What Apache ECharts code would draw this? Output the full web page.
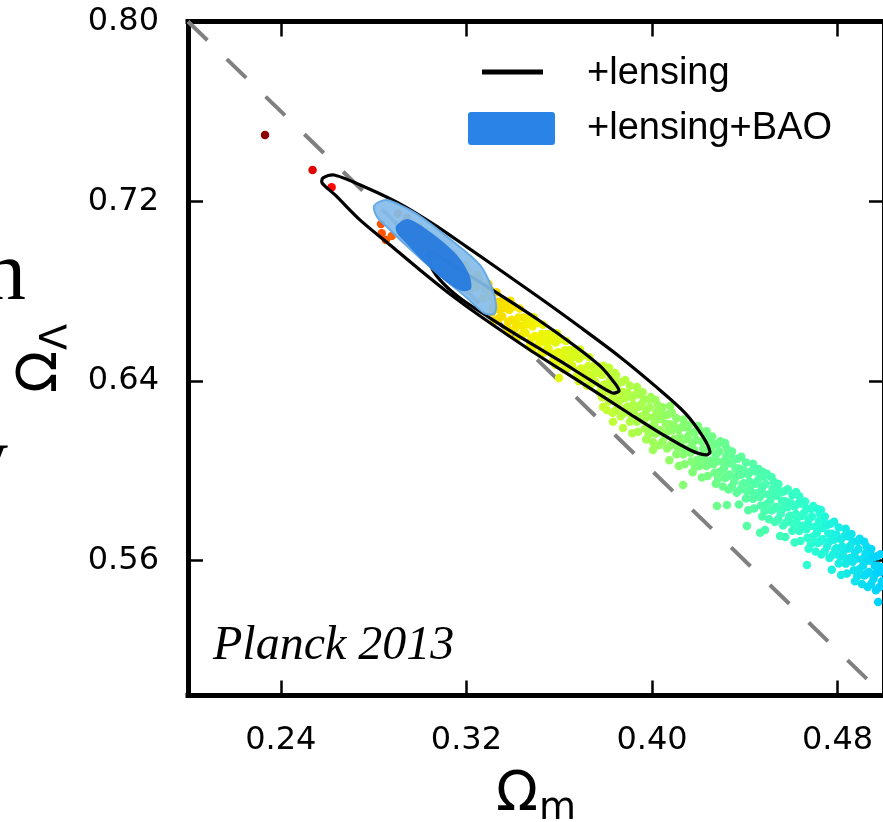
<!DOCTYPE html>
<html>
<head>
<meta charset="utf-8">
<script src="https://cdn.jsdelivr.net/npm/echarts@6.0.0/dist/echarts.min.js"></script>
<style>
html,body{margin:0;padding:0;background:#fff;}
#chart{width:883px;height:822px;}
</style>
</head>
<body>
<div id="chart"></div>
<script>
// ---------------- data ----------------
const xTicks = [0.24, 0.32, 0.40, 0.48];
const yTicks = [0.56, 0.64, 0.72, 0.80];
const legendLabels = ['+lensing', '+lensing+BAO'];
const annotation = 'Planck 2013';

// flat-universe line  Omega_Lambda = 1 - Omega_m
const flatLine = [[0.20, 0.80], [0.50, 0.50]];

// MCMC samples [Omega_m, Omega_Lambda]
const tailSamples = [[0.2332,0.7495],[0.2537,0.7339],[0.2619,0.7262],[0.2832,0.7099],[0.2835,0.7057],[0.2853,0.7027],[0.2878,0.7045]];
const baoSamples = [
[0.2905,0.7145],[0.2920,0.7062],[0.2930,0.7104],[0.2940,0.7070],[0.2945,0.7126],
[0.2955,0.7103],[0.2970,0.7020],[0.2980,0.7062],[0.2990,0.7028],[0.2995,0.7084],
[0.3005,0.7061],[0.3020,0.6978],[0.3030,0.7020],[0.3040,0.6986],[0.3045,0.7042],
[0.3055,0.7019],[0.3070,0.6936],[0.3080,0.6978],[0.3090,0.6944],[0.3095,0.7000],
[0.3105,0.6977],[0.3120,0.6894],[0.3130,0.6936],[0.3140,0.6902],[0.3145,0.6958],
[0.3155,0.6935],[0.3170,0.6852],[0.3180,0.6894],[0.3190,0.6860],[0.3195,0.6916],
[0.3205,0.6893],[0.3220,0.6810],[0.3230,0.6852],[0.3240,0.6818],[0.3245,0.6874],
[0.3255,0.6851],[0.3270,0.6768],[0.3280,0.6810],[0.3290,0.6776],[0.3295,0.6832]];
const yellowSamples = [
[0.3305,0.6803],[0.3315,0.6726],[0.3325,0.6754],[0.3335,0.6672],[0.3345,0.6754],[0.3310,0.6705],[0.3330,0.6795],[0.3340,0.6718],[0.3320,0.6668],[0.3345,0.6684],
[0.3355,0.6687],[0.3365,0.6755],[0.3375,0.6638],[0.3385,0.6716],[0.3395,0.6673],[0.3360,0.6724],[0.3380,0.6664],[0.3390,0.6757],[0.3370,0.6732],[0.3385,0.6616],
[0.3405,0.6731],[0.3415,0.6654],[0.3425,0.6682],[0.3435,0.6600],[0.3445,0.6682],[0.3410,0.6633],[0.3430,0.6723],[0.3440,0.6646],[0.3420,0.6596],[0.3445,0.6612],
[0.3455,0.6614],[0.3465,0.6682],[0.3475,0.6565],[0.3485,0.6643],[0.3495,0.6600],[0.3460,0.6651],[0.3480,0.6591],[0.3490,0.6684],[0.3470,0.6659],[0.3485,0.6543],
[0.3505,0.6658],[0.3515,0.6581],[0.3525,0.6609],[0.3535,0.6527],[0.3545,0.6609],[0.3510,0.6560],[0.3530,0.6650],[0.3540,0.6573],[0.3520,0.6523],[0.3545,0.6539],
[0.3555,0.6542],[0.3565,0.6610],[0.3575,0.6493],[0.3585,0.6571],[0.3595,0.6528],[0.3560,0.6579],[0.3580,0.6519],[0.3590,0.6612],[0.3570,0.6587],[0.3585,0.6471],
[0.3605,0.6586],[0.3615,0.6509],[0.3625,0.6537],[0.3635,0.6455],[0.3645,0.6537],[0.3610,0.6488],[0.3630,0.6578],[0.3640,0.6501],[0.3620,0.6451],[0.3645,0.6467],
[0.3655,0.6470],[0.3665,0.6538],[0.3675,0.6421],[0.3685,0.6499],[0.3695,0.6456],[0.3660,0.6507],[0.3680,0.6447],[0.3690,0.6540],[0.3670,0.6515],[0.3685,0.6399],
[0.3705,0.6514],[0.3715,0.6437],[0.3725,0.6465],[0.3735,0.6383],[0.3745,0.6465],[0.3710,0.6416],[0.3730,0.6506],[0.3740,0.6429],[0.3720,0.6379],[0.3745,0.6395],
[0.3755,0.6398],[0.3765,0.6466],[0.3775,0.6349],[0.3785,0.6427],[0.3795,0.6384],[0.3760,0.6435],[0.3780,0.6375],[0.3790,0.6468],[0.3770,0.6443],[0.3785,0.6327]];
const greenSamples = [
[0.3805,0.6381],[0.3815,0.6309],[0.3825,0.6437],[0.3835,0.6375],[0.3845,0.6272],[0.3810,0.6353],[0.3830,0.6258],[0.3840,0.6406],[0.3820,0.6406],[0.3805,0.6271],[0.3845,0.6427],[0.3825,0.6317],[0.3815,0.6459],[0.3835,0.6325],
[0.3855,0.6390],[0.3865,0.6243],[0.3875,0.6351],[0.3885,0.6404],[0.3895,0.6286],[0.3860,0.6352],[0.3880,0.6257],[0.3890,0.6280],[0.3870,0.6395],[0.3855,0.6295],[0.3895,0.6346],[0.3875,0.6191],[0.3865,0.6318],[0.3885,0.6324],
[0.3905,0.6379],[0.3915,0.6327],[0.3925,0.6275],[0.3935,0.6218],[0.3945,0.6285],[0.3910,0.6251],[0.3930,0.6341],[0.3940,0.6174],[0.3920,0.6294],[0.3905,0.6219],[0.3945,0.6340],[0.3925,0.6250],[0.3915,0.6167],[0.3935,0.6373],
[0.3955,0.6243],[0.3965,0.6316],[0.3975,0.6269],[0.3985,0.6162],[0.3995,0.6194],[0.3960,0.6350],[0.3980,0.6240],[0.3990,0.6283],[0.3970,0.6188],[0.3955,0.6298],[0.3995,0.6329],[0.3975,0.6139],[0.3965,0.6226],[0.3985,0.6317],
[0.4005,0.6237],[0.4015,0.6165],[0.4025,0.6293],[0.4035,0.6231],[0.4045,0.6128],[0.4010,0.6209],[0.4030,0.6114],[0.4040,0.6262],[0.4020,0.6262],[0.4005,0.6127],[0.4045,0.6283],[0.4025,0.6173],[0.4015,0.6315],[0.4035,0.6181],
[0.4055,0.6246],[0.4065,0.6099],[0.4075,0.6207],[0.4085,0.6260],[0.4095,0.6142],[0.4060,0.6208],[0.4080,0.6113],[0.4090,0.6136],[0.4070,0.6251],[0.4055,0.6151],[0.4095,0.6202],[0.4075,0.6047],[0.4065,0.6174],[0.4085,0.6180],
[0.4105,0.6234],[0.4115,0.6182],[0.4125,0.6130],[0.4135,0.6073],[0.4145,0.6140],[0.4110,0.6106],[0.4130,0.6196],[0.4140,0.6029],[0.4120,0.6149],[0.4105,0.6074],[0.4145,0.6195],[0.4125,0.6105],[0.4115,0.6022],[0.4135,0.6228],
[0.4155,0.6098],[0.4165,0.6171],[0.4175,0.6124],[0.4185,0.6017],[0.4195,0.6049],[0.4160,0.6205],[0.4180,0.6095],[0.4190,0.6138],[0.4170,0.6043],[0.4155,0.6153],[0.4195,0.6184],[0.4175,0.5994],[0.4165,0.6081],[0.4185,0.6172]];
const cyanSamples = [
[0.4205,0.6182],[0.4215,0.6130],[0.4225,0.6078],[0.4235,0.6021],[0.4245,0.6088],[0.4210,0.6054],[0.4230,0.6144],[0.4240,0.5977],[0.4220,0.6097],[0.4205,0.6022],[0.4245,0.6143],[0.4225,0.6053],[0.4215,0.5970],[0.4235,0.6176],
[0.4255,0.6046],[0.4265,0.6119],[0.4275,0.6072],[0.4285,0.5965],[0.4295,0.5997],[0.4260,0.6153],[0.4280,0.6043],[0.4290,0.6086],[0.4270,0.5991],[0.4255,0.6101],[0.4295,0.6132],[0.4275,0.5942],[0.4265,0.6029],[0.4285,0.6120],
[0.4305,0.6040],[0.4315,0.5968],[0.4325,0.6096],[0.4335,0.6034],[0.4345,0.5931],[0.4310,0.6012],[0.4330,0.5917],[0.4340,0.6065],[0.4320,0.6065],[0.4305,0.5930],[0.4345,0.6086],[0.4325,0.5976],[0.4315,0.6118],[0.4335,0.5984],
[0.4355,0.6049],[0.4365,0.5902],[0.4375,0.6010],[0.4385,0.6063],[0.4395,0.5945],[0.4360,0.6011],[0.4380,0.5916],[0.4390,0.5939],[0.4370,0.6054],[0.4355,0.5954],[0.4395,0.6005],[0.4375,0.5850],[0.4365,0.5977],[0.4385,0.5983],
[0.4405,0.6037],[0.4415,0.5985],[0.4425,0.5933],[0.4435,0.5876],[0.4445,0.5943],[0.4410,0.5909],[0.4430,0.5999],[0.4440,0.5832],[0.4420,0.5952],[0.4405,0.5877],[0.4445,0.5998],[0.4425,0.5908],[0.4415,0.5825],[0.4435,0.6031],
[0.4455,0.5901],[0.4465,0.5974],[0.4475,0.5927],[0.4485,0.5820],[0.4495,0.5852],[0.4460,0.6008],[0.4480,0.5898],[0.4490,0.5941],[0.4470,0.5846],[0.4455,0.5956],[0.4495,0.5987],[0.4475,0.5797],[0.4465,0.5884],[0.4485,0.5975],
[0.4505,0.5895],[0.4515,0.5823],[0.4525,0.5951],[0.4535,0.5889],[0.4545,0.5786],[0.4510,0.5867],[0.4530,0.5772],[0.4540,0.5920],[0.4520,0.5920],[0.4505,0.5785],[0.4545,0.5941],[0.4525,0.5831],[0.4515,0.5973],[0.4535,0.5839],
[0.4555,0.5904],[0.4565,0.5757],[0.4575,0.5865],[0.4585,0.5918],[0.4595,0.5800],[0.4560,0.5866],[0.4580,0.5771],[0.4590,0.5794],[0.4570,0.5909],[0.4555,0.5809],[0.4595,0.5860],[0.4575,0.5705],[0.4565,0.5832],[0.4585,0.5838],
[0.4605,0.5893],[0.4615,0.5841],[0.4625,0.5789],[0.4635,0.5732],[0.4645,0.5799],[0.4610,0.5765],[0.4630,0.5855],[0.4640,0.5688],[0.4620,0.5808],[0.4605,0.5733],[0.4645,0.5854],[0.4625,0.5764],[0.4615,0.5681],[0.4635,0.5887],
[0.4655,0.5757],[0.4665,0.5830],[0.4675,0.5783],[0.4685,0.5676],[0.4695,0.5708],[0.4660,0.5864],[0.4680,0.5754],[0.4690,0.5797],[0.4670,0.5702],[0.4655,0.5812],[0.4695,0.5843],[0.4675,0.5653],[0.4665,0.5740],[0.4685,0.5831],
[0.4705,0.5751],[0.4715,0.5679],[0.4725,0.5807],[0.4735,0.5745],[0.4745,0.5642],[0.4710,0.5723],[0.4730,0.5628],[0.4740,0.5776],[0.4720,0.5776],[0.4705,0.5641],[0.4745,0.5797],[0.4725,0.5687],[0.4715,0.5829],[0.4735,0.5695],
[0.4755,0.5759],[0.4765,0.5612],[0.4775,0.5720],[0.4785,0.5773],[0.4795,0.5655],[0.4760,0.5721],[0.4780,0.5626],[0.4790,0.5649],[0.4770,0.5764],[0.4755,0.5664],[0.4795,0.5715],[0.4775,0.5560],[0.4765,0.5687],[0.4785,0.5693],
[0.4805,0.5748],[0.4815,0.5696],[0.4825,0.5644],[0.4835,0.5587],[0.4845,0.5654],[0.4810,0.5620],[0.4830,0.5710],[0.4840,0.5543],[0.4820,0.5663],[0.4805,0.5588],[0.4845,0.5709],[0.4825,0.5619],[0.4815,0.5536],[0.4835,0.5742],
[0.4855,0.5612],[0.4865,0.5685],[0.4875,0.5638],[0.4885,0.5531],[0.4895,0.5563],[0.4860,0.5719],[0.4880,0.5609],[0.4890,0.5652],[0.4870,0.5557],[0.4855,0.5667],[0.4895,0.5698],[0.4875,0.5508],[0.4865,0.5595],[0.4885,0.5686],
[0.4905,0.5606],[0.4915,0.5534],[0.4925,0.5662],[0.4935,0.5600],[0.4945,0.5497],[0.4910,0.5578],[0.4930,0.5483],[0.4940,0.5631],[0.4920,0.5631],[0.4905,0.5496],[0.4945,0.5652],[0.4925,0.5542],[0.4915,0.5684],[0.4935,0.5550],
[0.4955,0.5615],[0.4965,0.5468],[0.4975,0.5576],[0.4985,0.5629],[0.4995,0.5511],[0.4960,0.5577],[0.4980,0.5482],[0.4990,0.5505],[0.4970,0.5620],[0.4955,0.5520],[0.4995,0.5571],[0.4975,0.5416],[0.4965,0.5543],[0.4985,0.5549]];
const strayScatter = [[0.4134,0.5937],[0.4280,0.5844],[0.4323,0.5848],[0.4409,0.5755],[0.4487,0.5737],[0.4466,0.5724],[0.4552,0.5710],[0.4668,0.5581],[0.3599,0.6413],[0.3789,0.6284],[0.3832,0.6218],[0.4004,0.6093],[0.4728,0.5826],[0.4621,0.5906],[0.4478,0.5995],[0.4315,0.6124],[0.4198,0.6200],[0.4078,0.6289],[0.3840,0.6436]];

// contours [Omega_m, Omega_Lambda]
const lensingOuter = [[0.2582,0.7304],[0.2630,0.7317],[0.2772,0.7259],[0.2914,0.7188],[0.3056,0.7099],[0.3203,0.6996],[0.3345,0.6894],[0.3517,0.6769],[0.3690,0.6640],[0.3862,0.6507],[0.4013,0.6378],[0.4142,0.6258],[0.4220,0.6151],[0.4250,0.6084],[0.4233,0.6071],[0.4164,0.6093],[0.4034,0.6169],[0.3905,0.6253],[0.3690,0.6396],[0.3474,0.6538],[0.3259,0.6689],[0.3129,0.6787],[0.3000,0.6894],[0.2871,0.7005],[0.2741,0.7117],[0.2634,0.7228],[0.2578,0.7281]];
const lensingInner = [[0.3043,0.6974],[0.3172,0.6894],[0.3345,0.6783],[0.3517,0.6667],[0.3668,0.6556],[0.3776,0.6467],[0.3832,0.6400],[0.3858,0.6356],[0.3828,0.6347],[0.3733,0.6405],[0.3603,0.6489],[0.3431,0.6596],[0.3302,0.6680],[0.3172,0.6769],[0.3086,0.6850],[0.3043,0.6921]];
const baoOuter = [[0.2802,0.7179],[0.2853,0.7206],[0.2914,0.7183],[0.2987,0.7143],[0.3129,0.7032],[0.3259,0.6916],[0.3310,0.6814],[0.3328,0.6738],[0.3319,0.6698],[0.3276,0.6703],[0.3198,0.6774],[0.3078,0.6876],[0.2948,0.6996],[0.2862,0.7081],[0.2815,0.7130]];
const baoInner = [[0.2897,0.7090],[0.2948,0.7121],[0.3056,0.7054],[0.3159,0.6961],[0.3211,0.6876],[0.3220,0.6810],[0.3181,0.6801],[0.3108,0.6845],[0.3017,0.6930],[0.2931,0.7023],[0.2901,0.7059]];

// colour scale of the samples (along Omega_m)
const sampleColorRange = [0.23, 0.50];
const sampleColors = ['#800000','#ff0000','#ff6a00','#ffc400','#f2f500','#c5ff32','#8cff6a','#58ffa0','#28ffd4','#00d0ff'];

// ---------------- chart ----------------
const samples = [].concat(tailSamples, baoSamples, yellowSamples, greenSamples, cyanSamples, strayScatter);
const FONT = 'DejaVu Sans';

function polygonSeries(points, style, z) {
  return {
    type: 'custom',
    coordinateSystem: 'cartesian2d',
    xAxisIndex: 0, yAxisIndex: 0,
    dimensions: ['x', 'y'],
    encode: { x: 0, y: 1 },
    data: points,
    z: z,
    silent: true,
    clip: true,
    renderItem: function (params, api) {
      if (params.dataIndex !== 0) return null;
      const pts = points.map(function (p) { return api.coord(p); });
      return { type: 'polygon', shape: { points: pts, smooth: 0.3 }, style: style };
    }
  };
}

function axisCommon(showLabel, ticks) {
  return {
    axisLine: { show: true, onZero: false, lineStyle: { color: '#000', width: 5, cap: 'square' } },
    axisTick: { show: true, inside: true, length: 15, customValues: ticks, lineStyle: { color: '#000', width: 2.5 } },
    axisLabel: { show: showLabel, customValues: ticks, formatter: function (v) { return v.toFixed(2); },
                 fontFamily: FONT, fontSize: 32, color: '#000', margin: 29 },
    splitLine: { show: false }
  };
}

const nameRich = {
  o: { fontFamily: FONT, fontSize: 55, color: '#000', lineHeight: 60 },
  s: { fontFamily: FONT, fontSize: 38, color: '#000', lineHeight: 40, padding: [28, 0, 0, 1] }
};

const option = {
  animation: false,
  backgroundColor: '#ffffff',
  grid: { left: 188, top: 21.5, width: 696, height: 674, containLabel: false, outerBoundsMode: 'none' },
  xAxis: [
    Object.assign({ type: 'value', min: 0.2, max: 0.5, position: 'bottom',
      name: '{o|Ω}{s|m}', nameLocation: 'middle', nameGap: 70,
      nameTextStyle: { rich: nameRich } }, axisCommon(true, xTicks)),
    Object.assign({ type: 'value', min: 0.2, max: 0.5, position: 'top' }, axisCommon(false, xTicks))
  ],
  yAxis: [
    Object.assign({ type: 'value', min: 0.5, max: 0.8, position: 'left',
      name: '{o|Ω}{s|Λ}', nameLocation: 'middle', nameGap: 116,
      nameTextStyle: { rich: nameRich } }, axisCommon(true, yTicks)),
    Object.assign({ type: 'value', min: 0.5, max: 0.8, position: 'right' }, axisCommon(false, yTicks))
  ],
  visualMap: {
    show: false, type: 'continuous', seriesIndex: 1, dimension: 0,
    min: sampleColorRange[0], max: sampleColorRange[1],
    inRange: { color: sampleColors }
  },
  series: [
    { type: 'line', data: flatLine, showSymbol: false, silent: true, z: 1,
      lineStyle: { color: '#808080', width: 4, type: [27, 27] } },
    { type: 'scatter', data: samples, symbol: 'circle', symbolSize: 8.5, z: 2, silent: true,
      itemStyle: { opacity: 1 } },
    polygonSeries(lensingOuter, { fill: 'none', stroke: '#000', lineWidth: 3.2 }, 3),
    polygonSeries(lensingInner, { fill: 'none', stroke: '#000', lineWidth: 3.2 }, 3),
    polygonSeries(baoOuter, { fill: 'rgba(132,188,234,0.92)', stroke: '#66aae4', lineWidth: 2 }, 4),
    polygonSeries(baoInner, { fill: 'rgba(34,120,222,0.9)', stroke: 'none' }, 5)
  ],
  graphic: [
    { type: 'line', shape: { x1: 482, y1: 72, x2: 543, y2: 72 }, style: { stroke: '#000', lineWidth: 5 }, z: 10 },
    { type: 'rect', shape: { x: 468, y: 112, width: 87, height: 33, r: 3 }, style: { fill: '#2a84e8' }, z: 10 },
    { type: 'text', x: 587, y: 74, z: 10, style: { text: legendLabels[0], font: '38px "Liberation Sans"', fill: '#000', verticalAlign: 'middle' } },
    { type: 'text', x: 587, y: 129, z: 10, style: { text: legendLabels[1], font: '38px "Liberation Sans"', fill: '#000', verticalAlign: 'middle' } },
    { type: 'text', x: 213, y: 646, z: 10, style: { text: annotation, font: 'italic 48px "Liberation Serif"', fill: '#000', verticalAlign: 'middle' } },
    { type: 'text', x: -16, y: 277, z: 10, style: { text: 'n', font: '84px "Liberation Serif"', fill: '#000', verticalAlign: 'middle' } },
    { type: 'text', x: -34, y: 463, z: 10, style: { text: 'y', font: '84px "Liberation Serif"', fill: '#000', verticalAlign: 'middle' } }
  ]
};

const chart = echarts.init(document.getElementById('chart'), null, { renderer: 'canvas' });
chart.setOption(option);
</script>
</body>
</html>
